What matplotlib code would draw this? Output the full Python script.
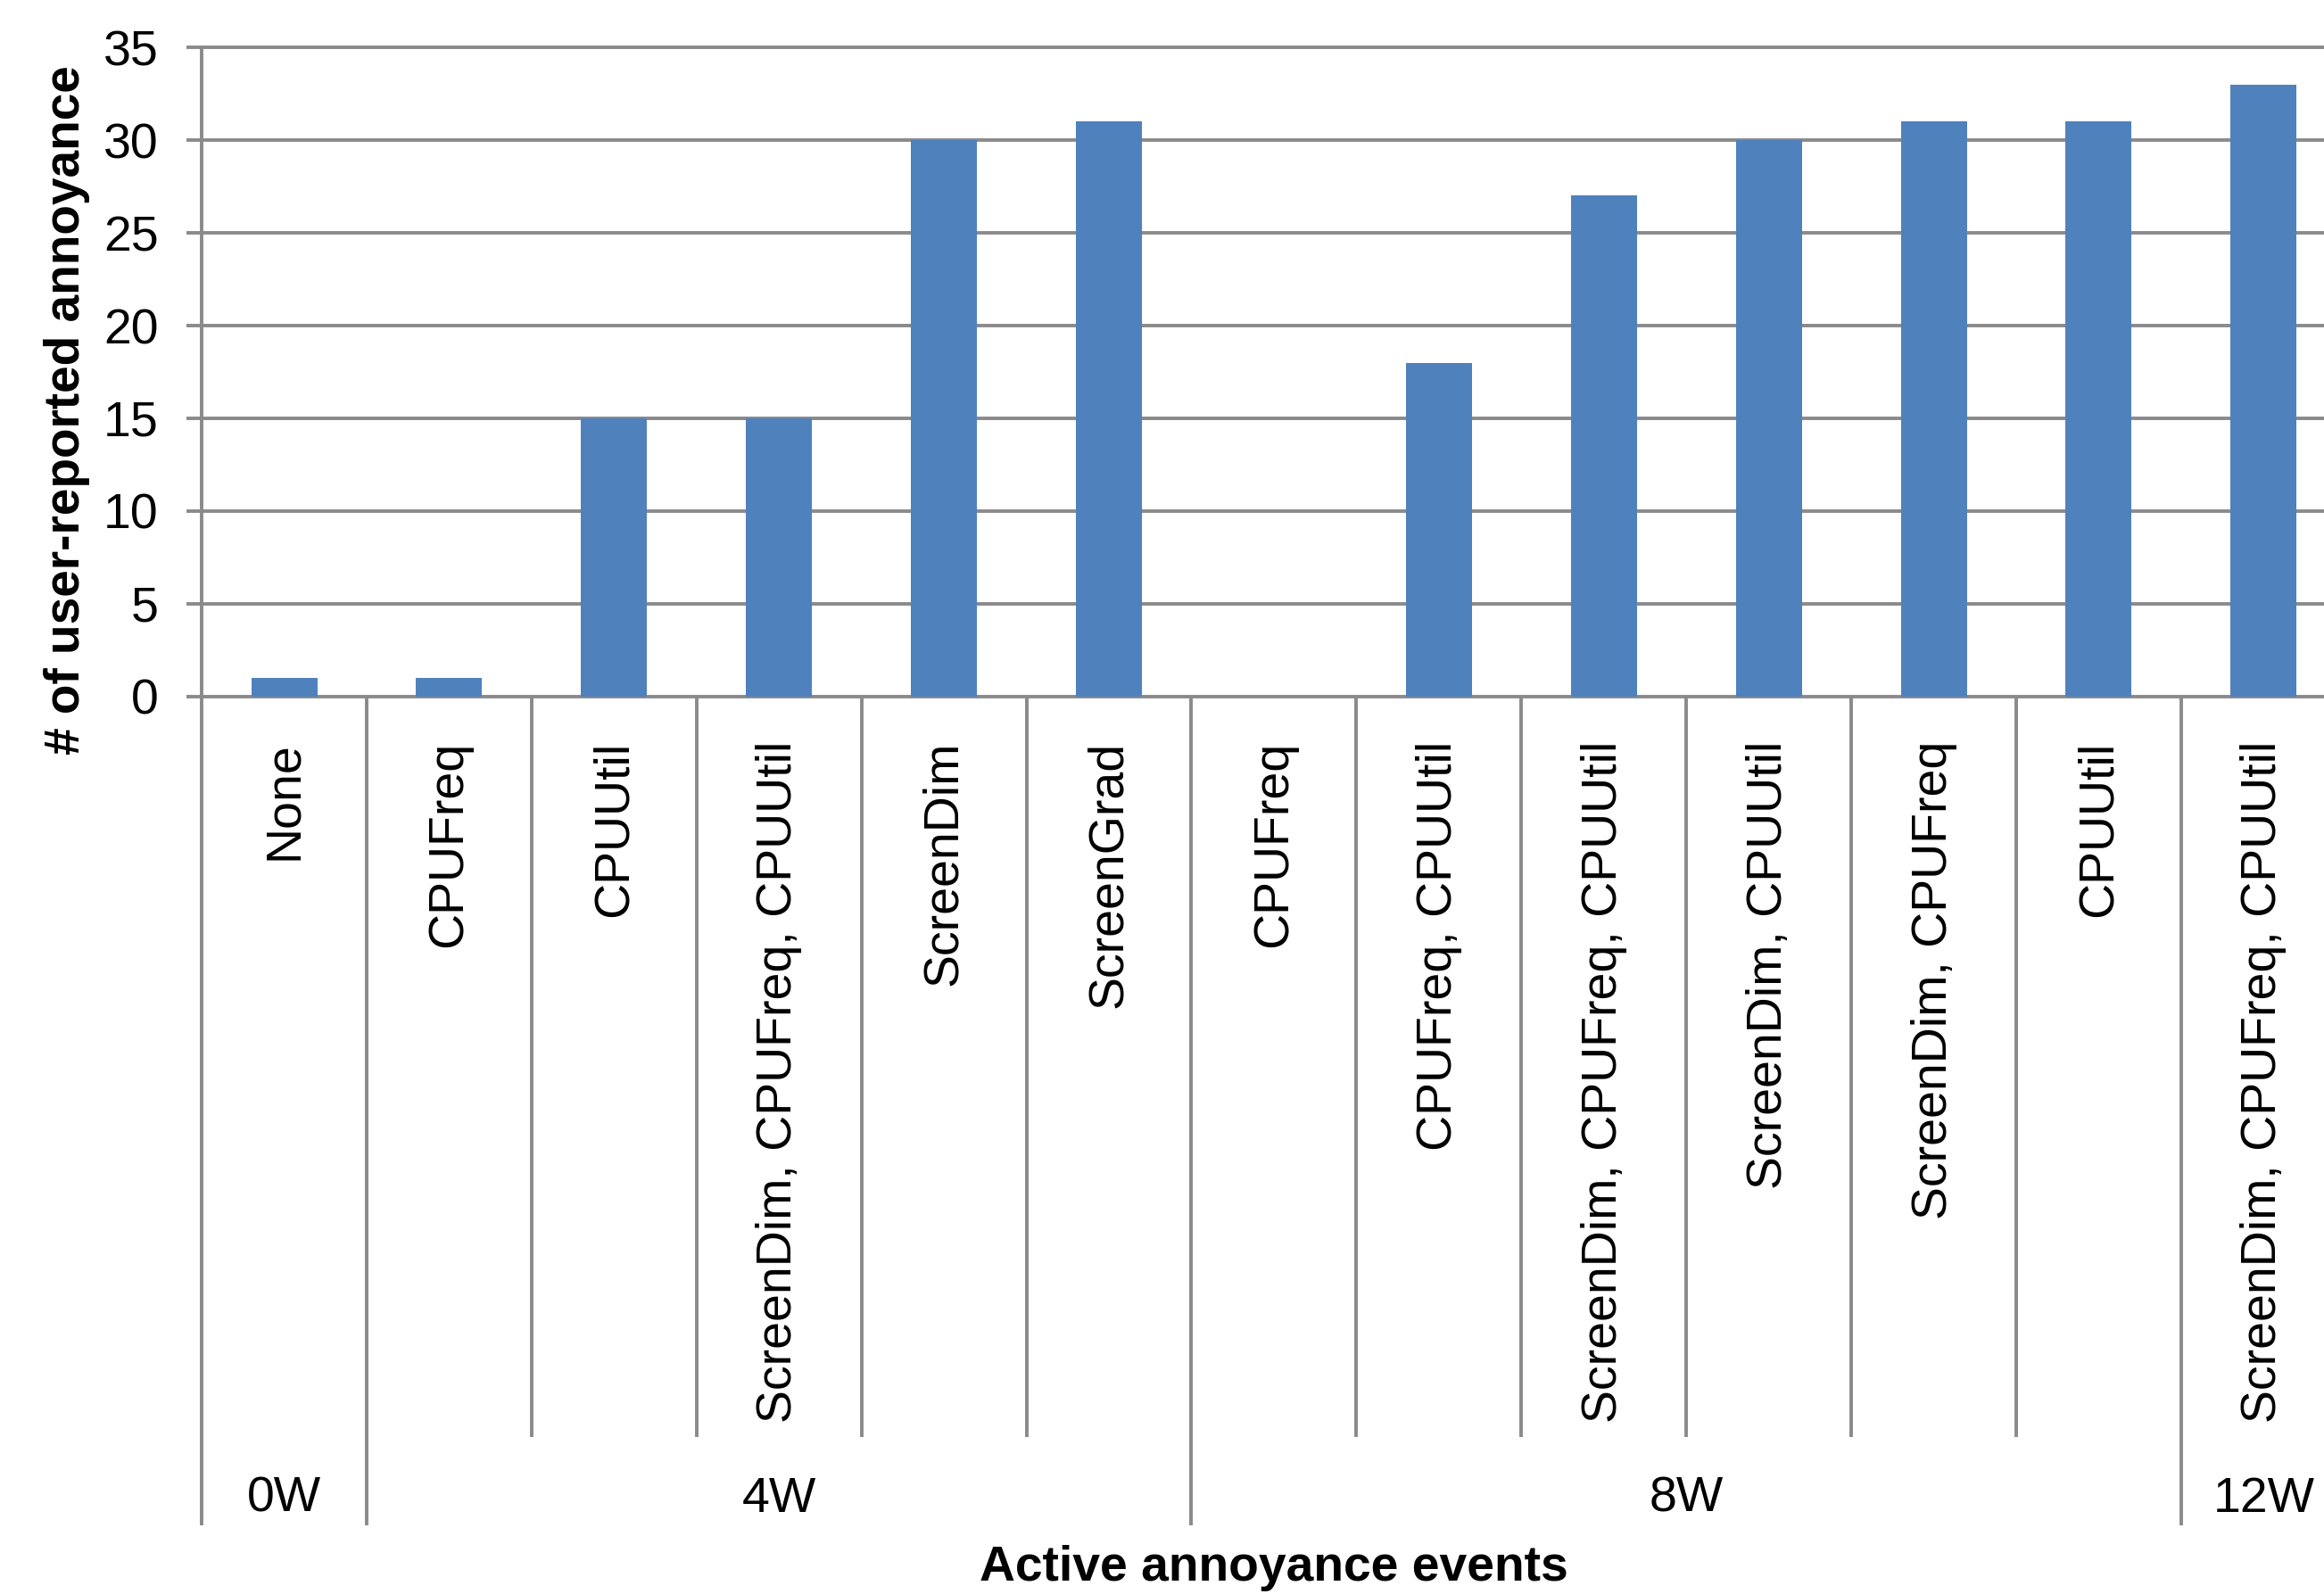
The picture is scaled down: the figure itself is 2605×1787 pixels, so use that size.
import matplotlib
matplotlib.use("Agg")
import matplotlib.pyplot as plt
import matplotlib.transforms as mtransforms

plt.rcParams['font.family'] = ['Liberation Sans', 'DejaVu Sans']

# Data
categories = ["None",
              "CPUFreq", "CPUUtil", "ScreenDim, CPUFreq, CPUUtil", "ScreenDim", "ScreenGrad",
              "CPUFreq", "CPUFreq, CPUUtil", "ScreenDim, CPUFreq, CPUUtil", "ScreenDim, CPUUtil",
              "ScreenDim, CPUFreq", "CPUUtil",
              "ScreenDim, CPUFreq, CPUUtil"]
annoyance_counts = [1, 1, 15, 15, 30, 31, 0, 18, 27, 30, 31, 31, 33]
groups = ["0W", "4W", "8W", "12W"]
group_sizes = [1, 5, 6, 1]
y_ticks = [0, 5, 10, 15, 20, 25, 30, 35]

BAR_COLOR = "#4F81BD"
LINE_COLOR = "#8A8A8A"
LW = 2.8

fig = plt.figure(figsize=(26.05, 17.87), dpi=100)
ax = fig.add_axes([0.0868, 0.5630, 0.9132, 0.4073])

x = list(range(len(categories)))
ax.bar(x, annoyance_counts, width=0.4, color=BAR_COLOR, zorder=3)

ax.set_xlim(-0.5, 12.366)
ax.set_ylim(0, 35)
for s in ax.spines.values():
    s.set_visible(False)

# Horizontal gridlines (including the baseline)
for v in y_ticks:
    ax.axhline(v, color=LINE_COLOR, lw=LW, zorder=1, clip_on=False)

ax.set_yticks(y_ticks)
ax.set_yticklabels([str(v) for v in y_ticks], fontsize=40)
ax.tick_params(axis='y', length=12, width=LW, color=LINE_COLOR, pad=23)

ax.set_xticks(x)
ax.set_xticklabels(categories, rotation=90, fontsize=40, va='top', ha='center')
ax.tick_params(axis='x', length=0, pad=36)

# Category / group separators below the axis
trans = mtransforms.blended_transform_factory(ax.transData, ax.transAxes)
short_bottom = -1.140
long_bottom = -1.277
boundaries = []
start = 0
for size in group_sizes:
    boundaries.append(start - 0.5)
    start += size
group_edges = set(boundaries)
for b in [i - 0.5 for i in range(len(categories) + 1)]:
    if b in group_edges or b == len(categories) - 0.5:
        top = 1.0 if b == -0.5 else 0.0
        ax.plot([b, b], [top, long_bottom], color=LINE_COLOR, lw=LW,
                transform=trans, clip_on=False, zorder=1, solid_capstyle='butt')
    else:
        ax.plot([b, b], [0.0, short_bottom], color=LINE_COLOR, lw=LW,
                transform=trans, clip_on=False, zorder=1, solid_capstyle='butt')

# Group labels
start = 0
for g, size in zip(groups, group_sizes):
    center = start + (size - 1) / 2
    ax.text(center, -1.236, g, transform=trans, ha='center', va='center',
            fontsize=40, clip_on=False)
    start += size

# Axis titles
ax.text((len(categories) - 1) / 2, -1.342, "Active annoyance events", transform=trans,
        ha='center', va='center', fontsize=39.8, fontweight='bold', clip_on=False)
fig.text(0.0288, 0.7426, "# of user-reported annoyance", rotation=90,
         ha='center', va='center', fontsize=39.6, fontweight='bold')

fig.savefig("out.png", dpi=100, facecolor="white")
